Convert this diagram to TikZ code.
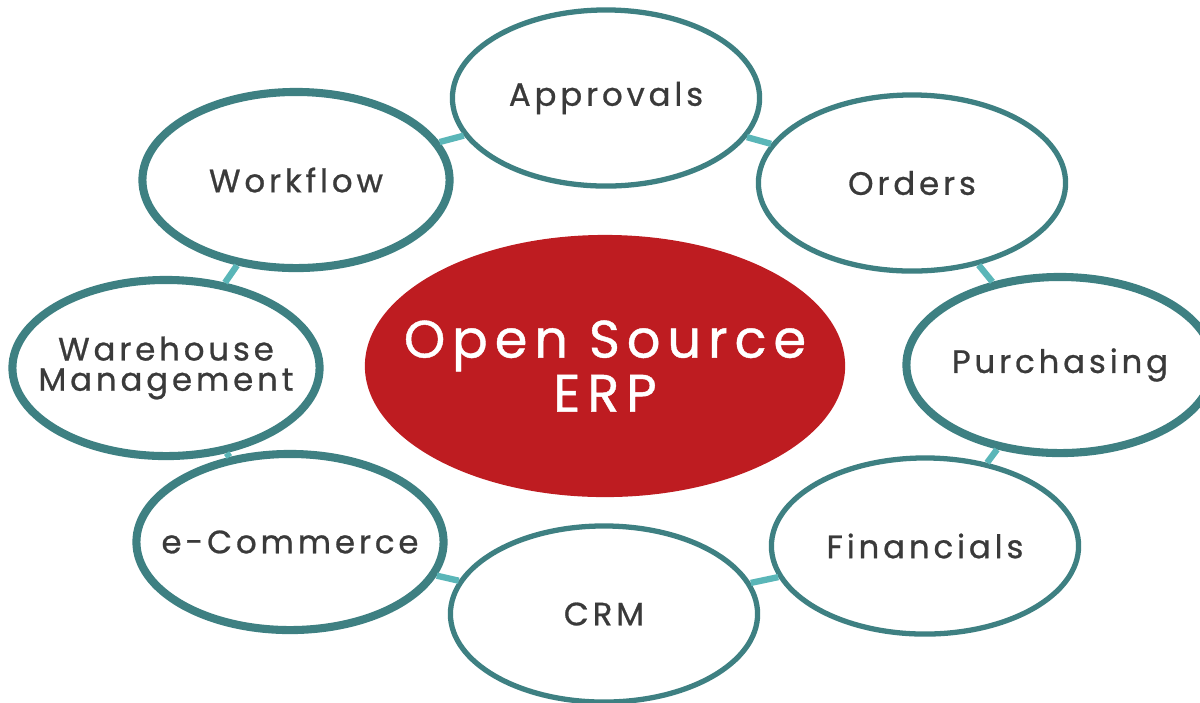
\documentclass[tikz,border=0pt]{standalone}
\usepackage{fontspec}
\usepackage{tikz}
\usetikzlibrary{shapes,positioning}

\newfontfamily\handfont[LetterSpace=12, FakeBold=0.8]{Poppins}
\newfontfamily\hubfont[LetterSpace=13, FakeBold=0.8]{Poppins}
\definecolor{ringteal}{RGB}{62,128,130}
\definecolor{linkteal}{RGB}{90,182,184}
\definecolor{erpred}{RGB}{190,28,33}
\definecolor{labelgray}{RGB}{58,58,58}

\begin{document}
\begin{tikzpicture}[x=0.01cm, y=-0.01cm]
			\tikzstyle{Module}	= [ellipse, draw=ringteal, line width=1.5pt, fill=white, inner xsep=-0.5cm, inner ysep=0pt, minimum width=3.07cm, minimum height=1.76cm, text=labelgray, align=center, font=\handfont\fontsize{9.2pt}{8.6pt}\selectfont]
			\tikzstyle{Thick}	= [line width=2.3pt]
			\tikzstyle{Hub}		= [ellipse, fill=erpred, inner xsep=-0.9cm, inner ysep=0pt, minimum width=4.8cm, minimum height=2.62cm, text=white, align=center, font=\hubfont\fontsize{15pt}{13.4pt}\selectfont]
			\tikzstyle{Link}	= [line width=1.8pt, linkteal]
			
			\useasboundingbox (0, 0) rectangle (1200, 702);
			
			\node (erp) at (605, 366) [Hub] {Open Source\\ERP};
			
			\node (appr) at (606, 98) [Module] {Approvals};
			\node (ordr) at (912, 183) [Module] {Orders};
			\node (purc) at (1060, 365) [Module][Thick] {Purchasing};
			\node (fina) at (925, 546) [Module] {Financials};
			\node (crm) at (604, 614) [Module] {CRM};
			\node (ecom) at (290, 542) [Module][Thick] {e-Commerce};
			\node (ware) at (166, 368) [Module][Thick] {Warehouse\\Management};
			\node (work) at (296, 180) [Module][Thick] {Workflow};
			
			\draw [-] (appr) to (ordr) [Link];
			\draw [-] (ordr) to (purc) [Link];
			\draw [-] (purc) to (fina) [Link];
			\draw [-] (fina) to (crm) [Link];
			\draw [-] (crm) to (ecom) [Link];
			\draw [-] (ecom) to (ware) [Link];
			\draw [-] (ware) to (work) [Link];
			\draw [-] (work) to (appr) [Link];
\end{tikzpicture}
\end{document}
